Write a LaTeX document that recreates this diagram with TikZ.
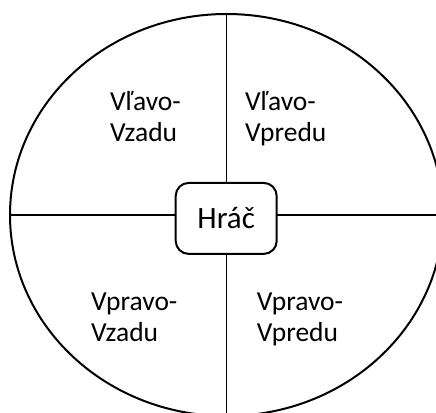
\documentclass[tikz,border=0pt]{standalone}
\usepackage{fontspec}
\setmainfont{Carlito}
\usetikzlibrary{shapes.geometric}
\begin{document}
\begin{tikzpicture}[x=1pt,y=-1pt,
  lbl/.style={anchor=base west,inner sep=0pt,font=\fontsize{27.5}{33}\selectfont},
  ring/.style={draw,line width=2pt,ellipse,minimum width=433,minimum height=402,inner sep=0pt},
  cross/.style={line width=1.5pt},
  player/.style={draw,fill=white,line width=2pt,rounded corners=13pt,minimum width=101,minimum height=71,inner sep=0pt,font=\fontsize{31}{37}\selectfont}]
\useasboundingbox (0,0) rectangle (436,412);
\clip (0,0) rectangle (436,412);
\node[ring] (E) at (226.5,215) {};
\draw[cross] (E.north) -- (E.south);
\draw[cross] (E.west) -- (E.east);
\node[player] (P) at (226.2,218.4) {Hráč};
\node[lbl] (tl1) at (110,110) {Vľavo-};
\node[lbl] (tl2) at (110,141.7) {Vzadu};
\node[lbl] (tr1) at (245,110) {Vľavo-};
\node[lbl] (tr2) at (245,141.7) {Vpredu};
\node[lbl] (bl1) at (91,310) {Vpravo-};
\node[lbl] (bl2) at (91,341.7) {Vzadu};
\node[lbl] (br1) at (256.7,310) {Vpravo-};
\node[lbl] (br2) at (256.7,341.7) {Vpredu};
\end{tikzpicture}
\end{document}
